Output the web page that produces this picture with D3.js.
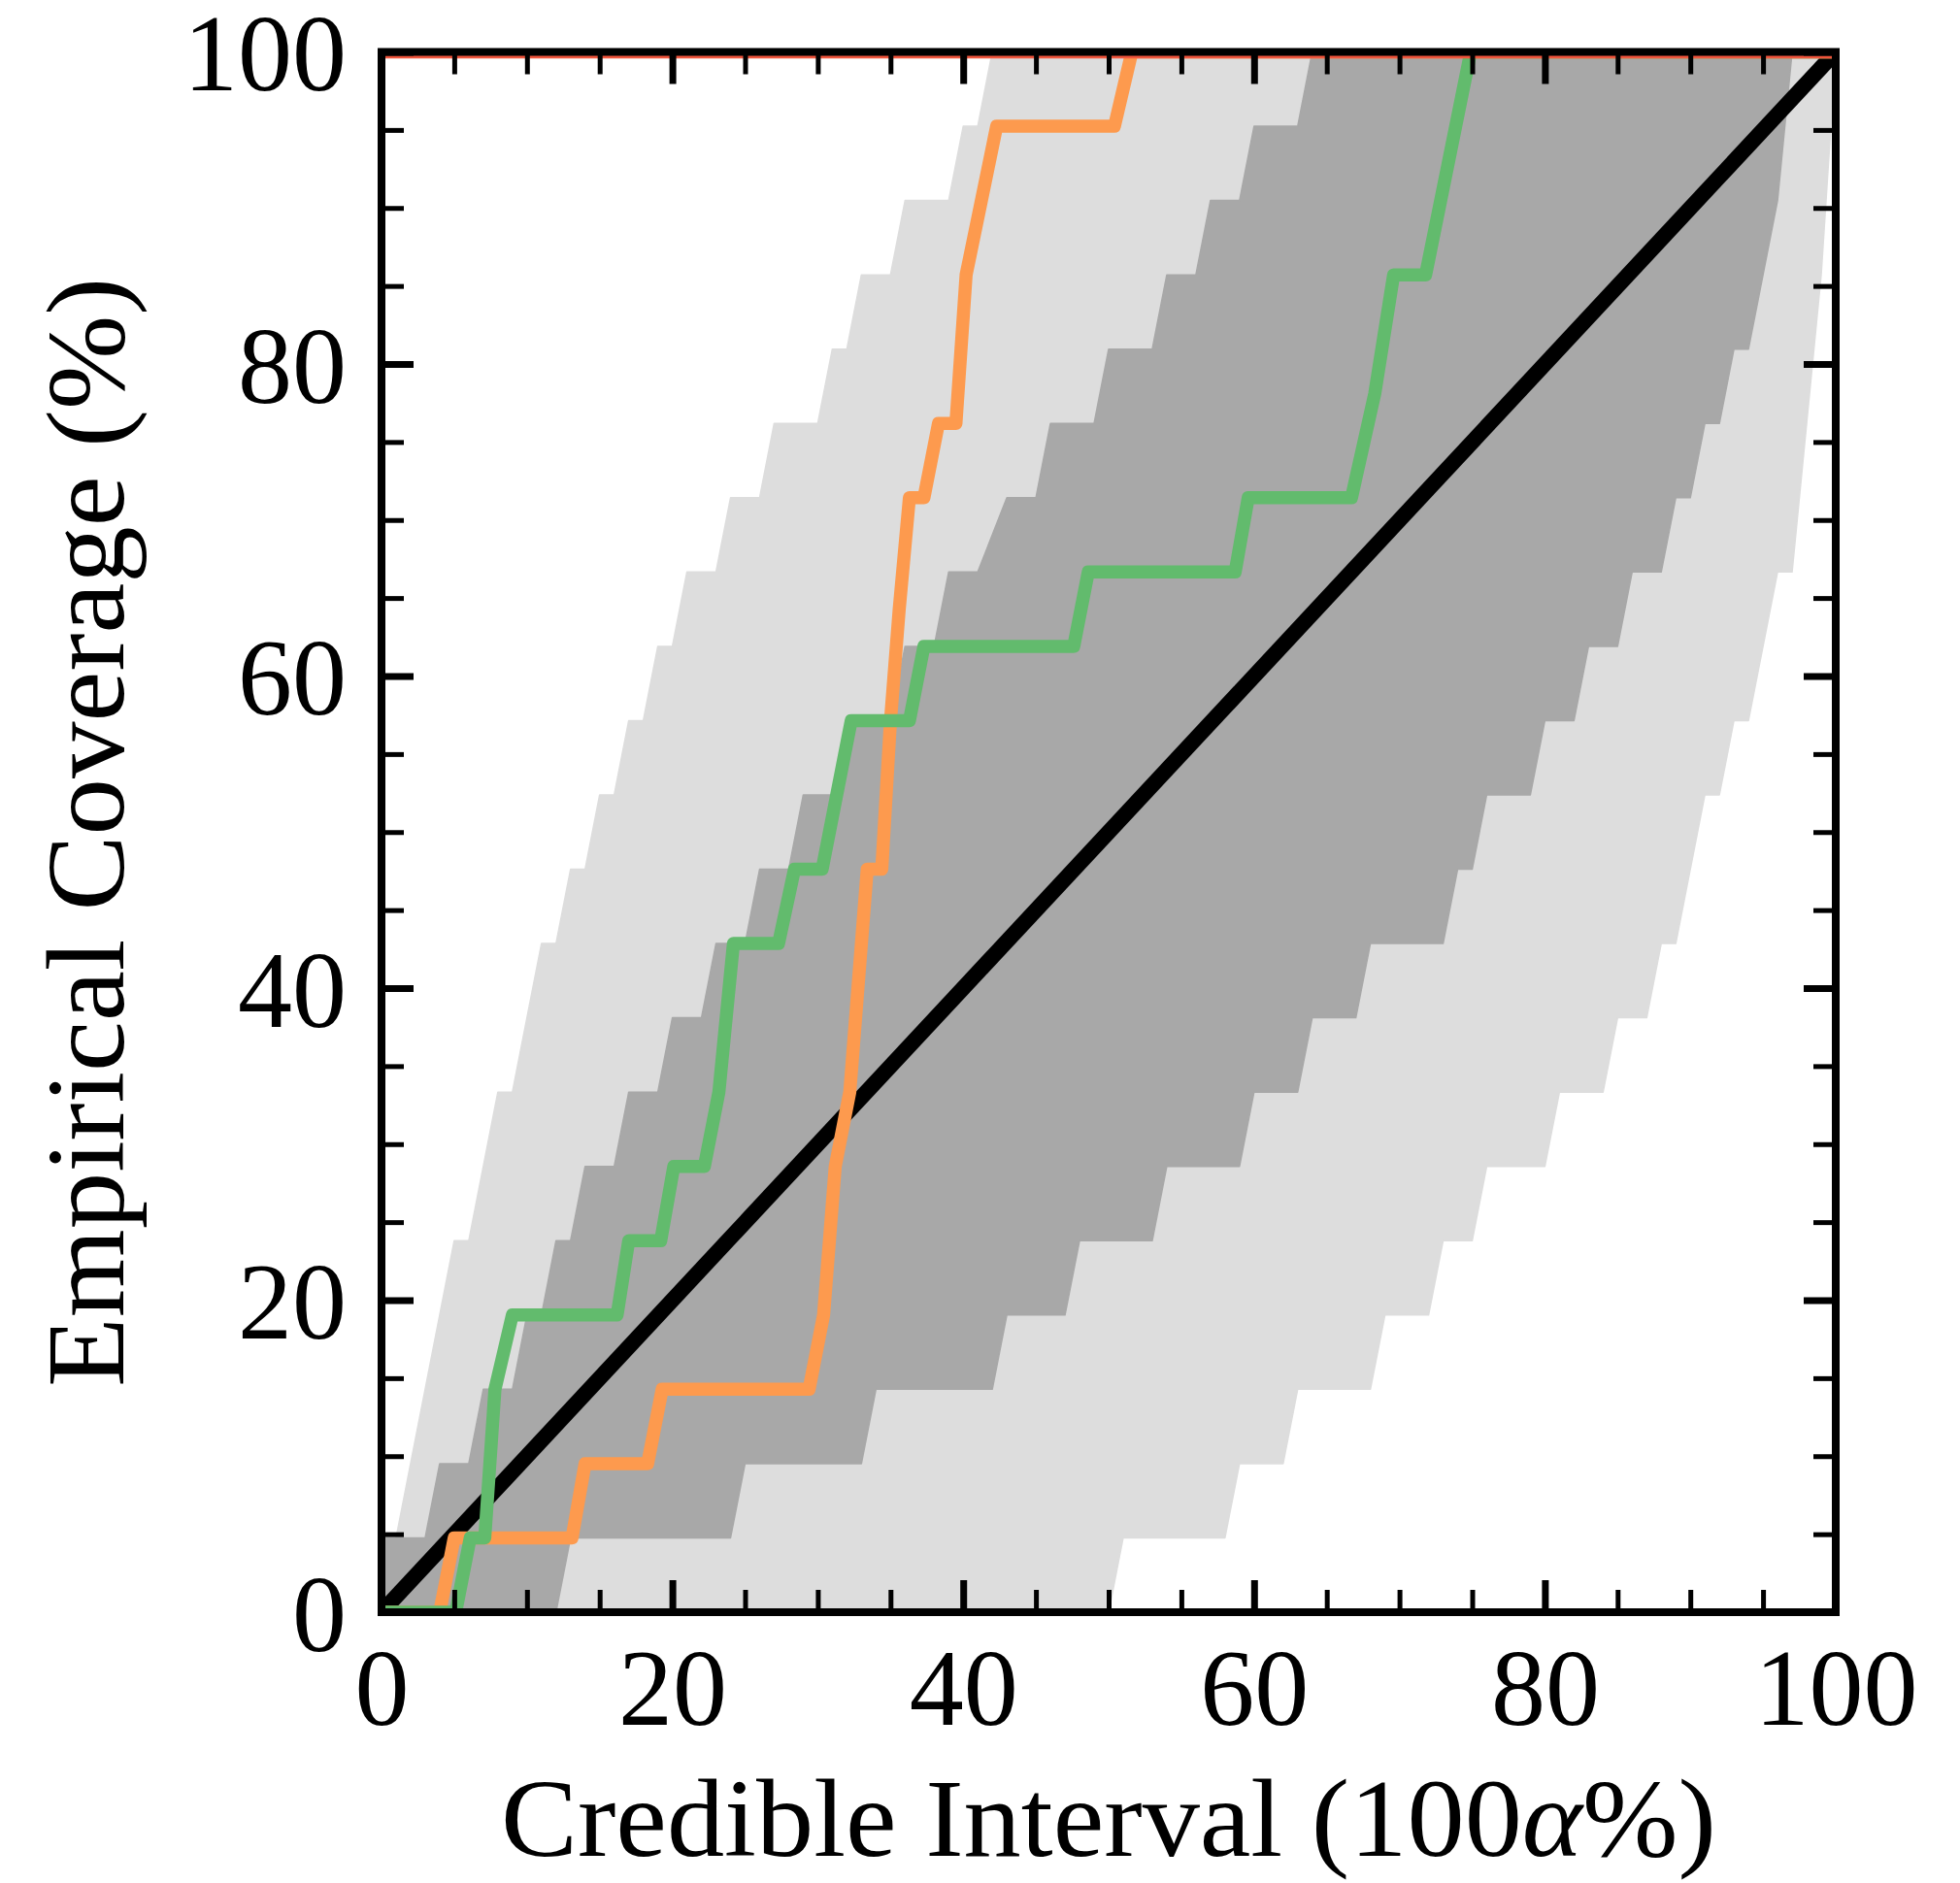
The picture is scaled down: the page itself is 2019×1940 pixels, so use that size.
<!DOCTYPE html>
<html>
<head>
<meta charset="utf-8">
<script src="https://cdn.jsdelivr.net/npm/d3@7"></script>
<style>
  body { margin: 0; background: #fff; }
  text { font-family: "Liberation Serif", "DejaVu Serif", serif; fill: #000; }
</style>
</head>
<body>
<svg id="chart" width="2019" height="1940"></svg>
<script>
// coverage levels come in steps of 1/21
var nLevels = 21;

// band edges, [credible interval %, level out of 21]
var lightUpper = [[0,0],[5,5],[6,5],[8,7],[9,7],[11,9],[12,9],[13,10],[14,10],[15,11],[16,11],
  [17,12],[18,12],[19,13],[20,13],[21,14],[23,14],[24,15],[26,15],[27,16],[30,16],[31,17],[32,17],
  [33,18],[35,18],[36,19],[39,19],[40,20],[41,20],[42,21],[100,21]];
var lightLower = [[0,0],[50,0],[51,1],[58,1],[59,2],[62,2],[63,3],[68,3],[69,4],[72,4],[73,5],
  [75,5],[76,6],[80,6],[81,7],[84,7],[85,8],[87,8],[88,9],[89,9],[91,11],[92,11],[93,12],[94,12],
  [96,14],[97,14],[98,16],[99,18],[100,21]];
var darkUpper = [[0,1],[3,1],[4,2],[6,2],[7,3],[9,3],[10,4],[11,4],[12,5],[13,5],[14,6],[16,6],
  [17,7],[19,7],[20,8],[22,8],[23,9],[25,9],[26,10],[28,10],[29,11],[31,11],[32,12],[35,12],
  [36,13],[38,13],[39,14],[41,14],[43,15],[45,15],[46,16],[49,16],[50,17],[53,17],[54,18],[56,18],
  [57,19],[59,19],[60,20],[63,20],[64,21],[100,21]];
var darkLower = [[0,0],[12,0],[13,1],[24,1],[25,2],[33,2],[34,3],[42,3],[43,4],[47,4],[48,5],
  [53,5],[54,6],[59,6],[60,7],[63,7],[64,8],[67,8],[68,9],[73,9],[74,10],[75,10],[76,11],[79,11],
  [80,12],[82,12],[83,13],[85,13],[86,14],[88,14],[89,15],[90,15],[91,16],[92,16],[93,17],[94,17],
  [95,18],[96,19],[97,21],[100,21]];

// empirical coverage curves, [credible interval %, level out of 21]
var orangeSeries = [[0,0],[4.0,0],[5.0,1],[13.1,1],[14.0,2],[18.3,2],[19.3,3],[29.4,3],[30.4,4],
  [31.2,6],[32.2,7],[33.4,10],[34.4,10],[35.0,12],[35.6,13.5],[36.3,15],[37.3,15],[38.3,16],
  [39.5,16],[40.2,18],[42.3,20],[50.4,20],[51.6,21],[100,21]];
var greenSeries = [[0,0],[5.1,0],[6.1,1],[7.1,1],[7.8,3],[9.0,4],[16.2,4],[17.0,5],[19.2,5],
  [20.1,6],[22.2,6],[23.2,7],[24.2,9],[27.3,9],[28.4,10],[30.3,10],[32.3,12],[36.3,12],[37.3,13],
  [47.6,13],[48.6,14],[58.7,14],[59.6,15],[66.7,15],[68.3,16.4],[69.6,18],[71.8,18],[74.9,21],[100,21]];
var redSeries = [[0,21],[100,21]];
var idealLine = [[0,0],[100,100]];

var majorTicks = [0, 20, 40, 60, 80, 100];
var minorTicks = [5, 10, 15, 25, 30, 35, 45, 50, 55, 65, 70, 75, 85, 90, 95];

var plotLeft = 393, plotRight = 1891, plotTop = 53.5, plotBottom = 1661;

var svg = d3.select("#chart");
var x = d3.scaleLinear().domain([0, 100]).range([plotLeft, plotRight]);
var y = d3.scaleLinear().domain([0, 100]).range([plotBottom, plotTop]);

function lvl(v) { return v / nLevels * 100; }

var stepLine = d3.line()
  .x(function(d){ return x(d[0]); })
  .y(function(d){ return y(lvl(d[1])); });
var pctLine = d3.line()
  .x(function(d){ return x(d[0]); })
  .y(function(d){ return y(d[1]); });

svg.append("defs").append("clipPath")
    .attr("id", "plotclip")
  .append("rect")
    .attr("x", plotLeft).attr("y", plotTop)
    .attr("width", plotRight - plotLeft).attr("height", plotBottom - plotTop);

var plot = svg.append("g").attr("clip-path", "url(#plotclip)");

function band(upper, lower, color) {
  var pts = upper.concat(lower.slice().reverse());
  plot.append("path")
    .attr("d", stepLine(pts) + "Z")
    .attr("fill", color)
    .attr("stroke", color)
    .attr("stroke-width", 1.5)
    .attr("stroke-linejoin", "round");
}
band(lightUpper, lightLower, "#dddddd");
band(darkUpper, darkLower, "#a8a8a8");

plot.append("path")
  .attr("d", pctLine(idealLine))
  .attr("fill", "none")
  .attr("stroke", "#000")
  .attr("stroke-width", 16);

function curve(data, color) {
  plot.append("path")
    .attr("d", stepLine(data))
    .attr("fill", "none")
    .attr("stroke", color)
    .attr("stroke-width", 13.5)
    .attr("stroke-linejoin", "round")
    .attr("stroke-linecap", "square");
}
curve(orangeSeries, "#fd9a4e");
curve(greenSeries, "#62bb6d");
curve(redSeries, "#f0553c");

// ticks point inward on all four sides
function addAxis(axis, tx, ty, width) {
  var g = svg.append("g")
    .attr("transform", "translate(" + tx + "," + ty + ")")
    .call(axis);
  g.select(".domain").remove();
  g.selectAll(".tick line").attr("stroke", "#000").attr("stroke-width", width);
  g.selectAll(".tick text").attr("font-size", 112)
    .attr("font-family", "'Liberation Serif', 'DejaVu Serif', serif");
  return g;
}
var noLabel = function(){ return ""; };

addAxis(d3.axisBottom(x).tickValues(majorTicks).tickSize(-33).tickPadding(36), 0, plotBottom, 7);
addAxis(d3.axisLeft(y).tickValues(majorTicks).tickSize(-33).tickPadding(36), plotLeft, 0, 7)
  .selectAll(".tick text").attr("dy", "0.35em");
addAxis(d3.axisTop(x).tickValues(majorTicks).tickSize(-33).tickFormat(noLabel), 0, plotTop, 7);
addAxis(d3.axisRight(y).tickValues(majorTicks).tickSize(-33).tickFormat(noLabel), plotRight, 0, 7);
addAxis(d3.axisBottom(x).tickValues(minorTicks).tickSize(-23).tickFormat(noLabel), 0, plotBottom, 5);
addAxis(d3.axisLeft(y).tickValues(minorTicks).tickSize(-23).tickFormat(noLabel), plotLeft, 0, 5);
addAxis(d3.axisTop(x).tickValues(minorTicks).tickSize(-23).tickFormat(noLabel), 0, plotTop, 5);
addAxis(d3.axisRight(y).tickValues(minorTicks).tickSize(-23).tickFormat(noLabel), plotRight, 0, 5);

svg.append("rect")
  .attr("x", plotLeft).attr("y", plotTop)
  .attr("width", plotRight - plotLeft).attr("height", plotBottom - plotTop)
  .attr("fill", "none")
  .attr("stroke", "#000")
  .attr("stroke-width", 8);

var xlab = svg.append("text")
  .attr("x", (plotLeft + plotRight) / 2)
  .attr("y", 1912)
  .attr("text-anchor", "middle")
  .attr("font-size", 114)
  .attr("textLength", 1252)
  .attr("lengthAdjust", "spacingAndGlyphs");
xlab.append("tspan").text("Credible Interval (100");
xlab.append("tspan").attr("font-style", "italic").text("α");
xlab.append("tspan").text("%)");

svg.append("text")
  .attr("transform", "translate(127," + ((plotTop + plotBottom) / 2) + ") rotate(-90)")
  .attr("text-anchor", "middle")
  .attr("font-size", 114)
  .attr("textLength", 1143)
  .attr("lengthAdjust", "spacingAndGlyphs")
  .text("Empirical Coverage (%)");
</script>
</body>
</html>
